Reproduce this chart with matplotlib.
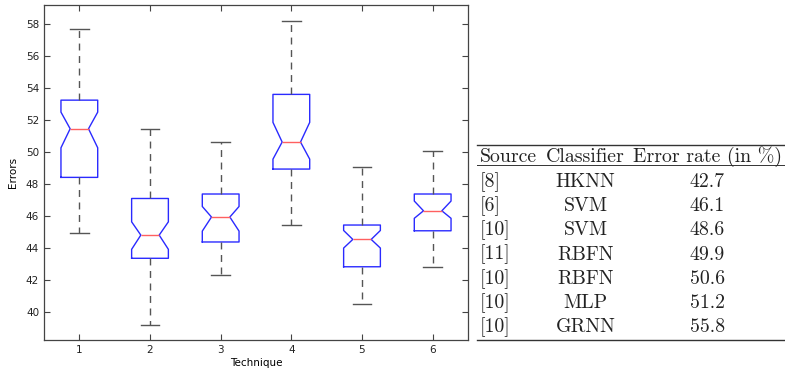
import matplotlib
matplotlib.use("Agg")
import matplotlib.pyplot as plt
from matplotlib.lines import Line2D

# box statistics (techniques 1..6)
techniques = [1, 2, 3, 4, 5, 6]
medians = [51.46, 44.81, 45.94, 50.63, 44.54, 46.33]
q1 = [48.42, 43.36, 44.38, 48.94, 42.83, 45.08]
q3 = [53.25, 47.10, 47.38, 53.61, 45.44, 47.38]
whislo = [44.92, 39.19, 42.31, 45.44, 40.48, 42.79]
whishi = [57.69, 51.44, 50.64, 58.19, 49.08, 50.08]
ci_lo = [50.27, 43.92, 45.06, 49.56, 44.00, 45.86]
ci_hi = [52.50, 45.64, 46.60, 51.86, 45.10, 46.94]

# comparison table
table_header = ["Source", "Classifier", "Error rate (in %)"]
sources = ["[8]", "[6]", "[10]", "[11]", "[10]", "[10]", "[10]"]
classifiers = ["HKNN", "SVM", "SVM", "RBFN", "RBFN", "MLP", "GRNN"]
error_rates = ["42.7", "46.1", "48.6", "49.9", "50.6", "51.2", "55.8"]

W, H = 785, 376
fig = plt.figure(figsize=(W / 100, H / 100), dpi=100)
ax = fig.add_axes([44 / W, 36 / H, 424 / W, 335 / H])

stats = []
for i in range(len(techniques)):
    stats.append({
        "med": medians[i], "q1": q1[i], "q3": q3[i],
        "whislo": whislo[i], "whishi": whishi[i],
        "cilo": ci_lo[i], "cihi": ci_hi[i], "fliers": [],
    })

ax.bxp(
    stats, positions=techniques, widths=0.52, shownotches=True, showfliers=False,
    boxprops=dict(color="#2a2aff", linewidth=1.0),
    medianprops=dict(color="#ff6060", linewidth=1.0),
    whiskerprops=dict(color="#555555", linestyle=(0, (5, 4)), linewidth=1.0),
    capprops=dict(color="#555555", linewidth=1.0),
)

ax.set_xlim(0.5, 6.5)
ax.set_ylim(38.25, 59.2)
ax.set_xticks(techniques)
ax.set_xticklabels([str(t) for t in techniques])
ax.set_yticks(range(40, 59, 2))
ax.tick_params(direction="in", length=4, top=True, right=True, labelsize=7.5,
               color="#444444", labelcolor="#222222", width=0.8)
for sp in ax.spines.values():
    sp.set_color("#444444")
    sp.set_linewidth(0.9)
ax.set_xlabel("Technique", fontsize=7.5, labelpad=2)
ax.set_ylabel("Errors", fontsize=7.5, labelpad=6)

# table drawn as text in figure pixel coordinates
def fx(px):
    return px / W

def fy(py):
    return 1 - py / H

tfont = dict(family="cmr10", fontsize=14.3, color="#222222", va="center")
x_left, x_right = 477, 785
fig.add_artist(Line2D([fx(x_left), fx(x_right)], [fy(144.5), fy(144.5)], color="#333333", lw=1.0))
fig.add_artist(Line2D([fx(x_left), fx(x_right)], [fy(165), fy(165)], color="#333333", lw=0.7))
fig.add_artist(Line2D([fx(x_left), fx(x_right)], [fy(339.5), fy(339.5)], color="#333333", lw=1.0))

fig.text(fx(480), fy(157), table_header[0], ha="left", **tfont)
fig.text(fx(585.5), fy(157), table_header[1], ha="center", **tfont)
fig.text(fx(707.5), fy(157), table_header[2], ha="center", **tfont)

row_y0, row_dy = 182, 24.2
for i in range(len(sources)):
    y = fy(row_y0 + i * row_dy)
    fig.text(fx(480), y, sources[i], ha="left", **tfont)
    fig.text(fx(585.5), y, classifiers[i], ha="center", **tfont)
    fig.text(fx(707.5), y, error_rates[i], ha="center", **tfont)

fig.savefig("out.png", dpi=100)
